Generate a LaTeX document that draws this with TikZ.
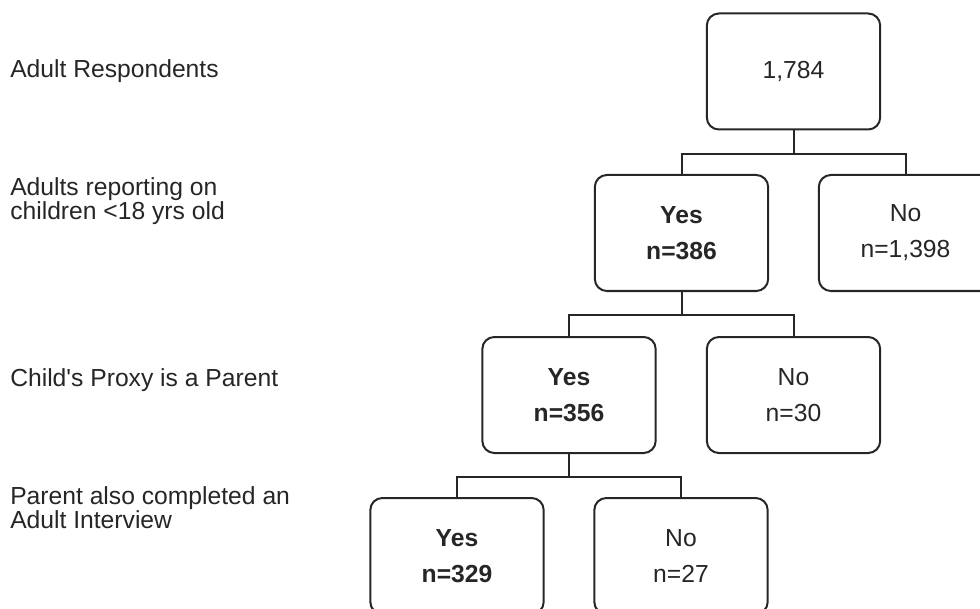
\documentclass[tikz,border=0pt]{standalone}
\usepackage{fontspec}
\setmainfont{Liberation Sans}
\begin{document}
\begin{tikzpicture}[x=0.75pt,y=-0.75pt,
  box/.style={draw=black!85,line width=1.5pt,rounded corners=9pt,minimum width=130pt,minimum height=87pt,
    inner sep=0pt,align=center,font=\fontsize{18.5}{27}\selectfont,text=black!85},
  lab/.style={anchor=base west,align=left,inner sep=0pt,font=\fontsize{18.5}{18}\selectfont,text=black!85},
  conn/.style={draw=black!85,line width=1.5pt}]
\useasboundingbox (0,0) rectangle (980,609);
\clip (0,0) rectangle (980,609);
\node[box] (b1) at (793.5,71.5) {1,784};
\node[box] (b2) at (681.5,233) {\textbf{Yes}\\\textbf{n=386}};
\node[box] (b3) at (905.5,233) {No\\n=1,398};
\node[box] (b4) at (569,395) {\textbf{Yes}\\\textbf{n=356}};
\node[box] (b5) at (793.5,395) {No\\n=30};
\node[box] (b6) at (457,556) {\textbf{Yes}\\\textbf{n=329}};
\node[box] (b7) at (681,556) {No\\n=27};
\draw[conn] (b1.south) -- ++(0,24) -| (b2.north);
\draw[conn] (b1.south) -- ++(0,24) -| (b3.north);
\draw[conn] (b2.south) -- ++(0,23) -| (b4.north);
\draw[conn] (b2.south) -- ++(0,23) -| (b5.north);
\draw[conn] (b4.south) -- ++(0,23) -| (b6.north);
\draw[conn] (b4.south) -- ++(0,23) -| (b7.north);
\node[lab] (l1) at (10,78) {Adult Respondents};
\node[lab] (l2) at (10,220) {Adults reporting on\\children <18 yrs old};
\node[lab] (l3) at (10,386) {Child\textquotesingle s Proxy is a Parent};
\node[lab] (l4) at (10,528) {Parent also completed an\\Adult Interview};
\end{tikzpicture}
\end{document}
